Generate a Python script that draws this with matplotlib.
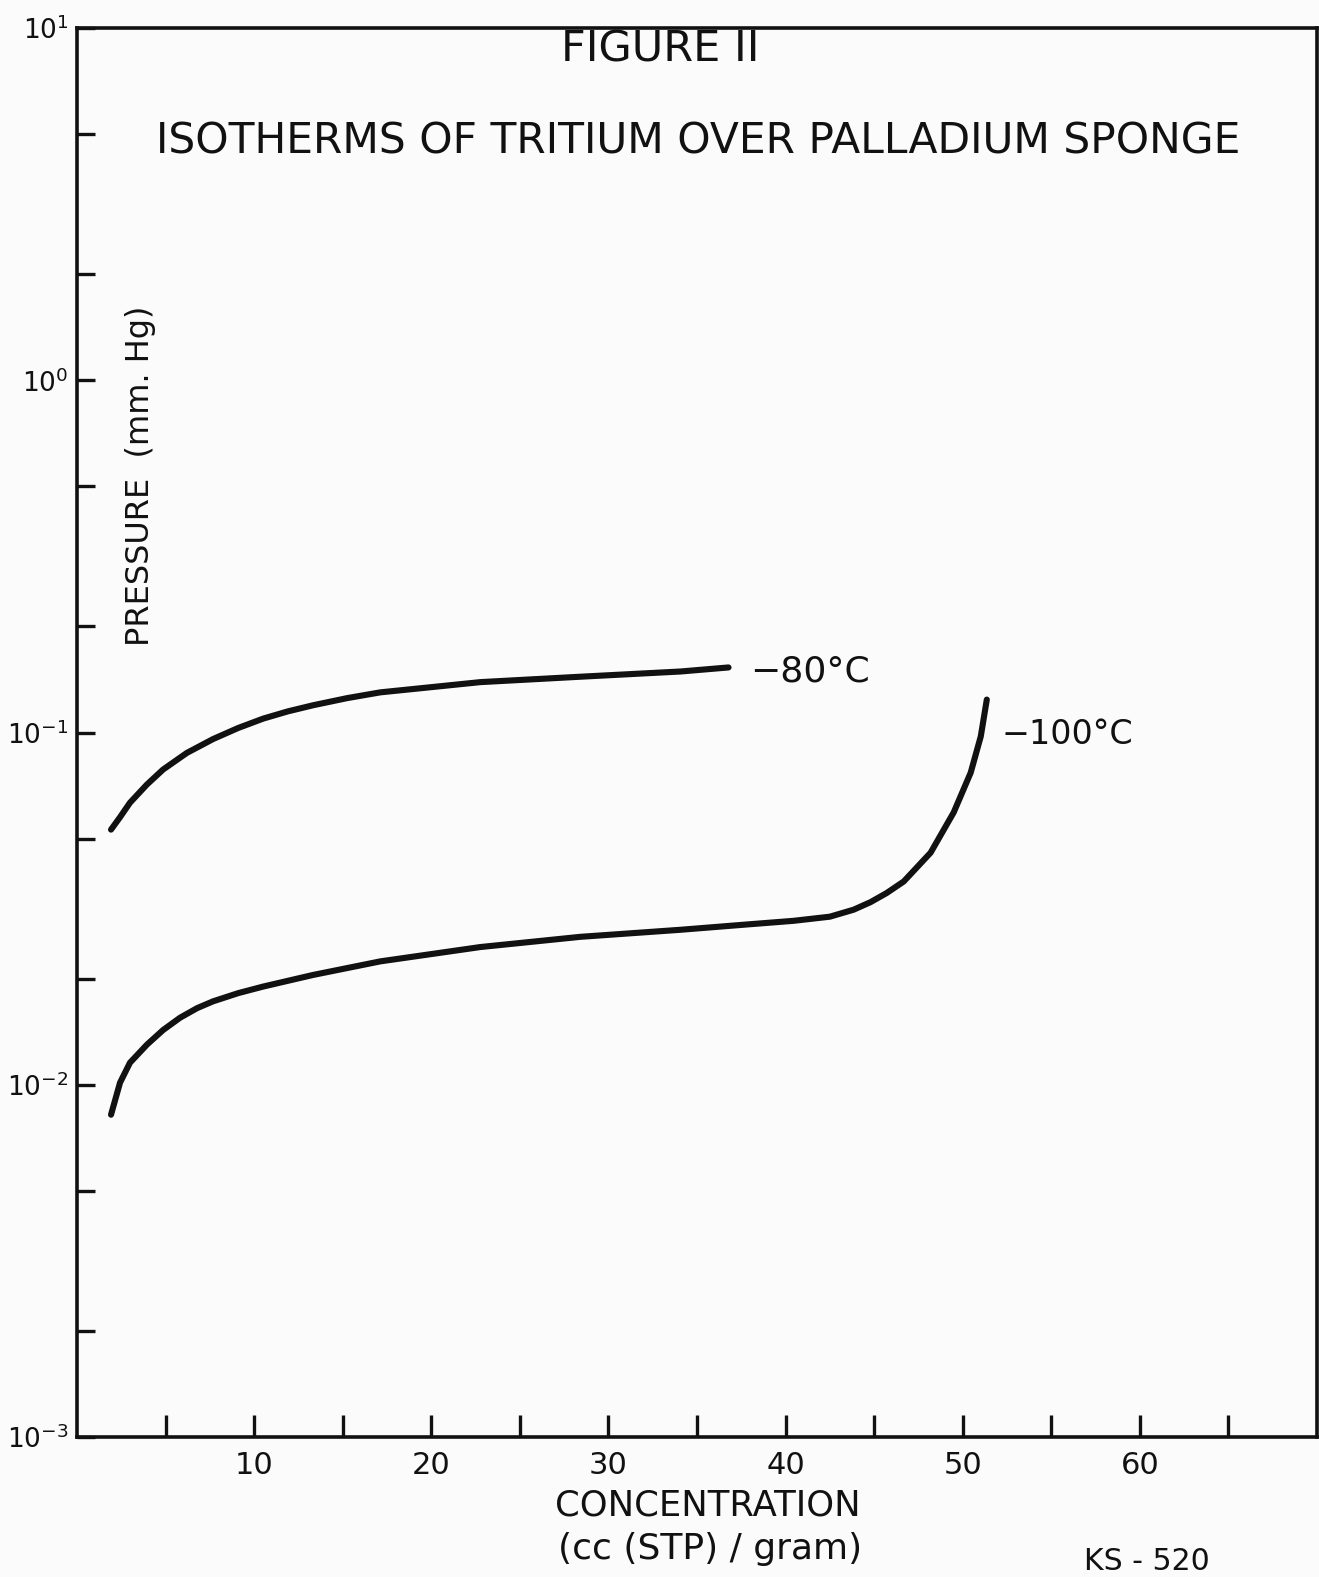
#!/usr/bin/env python3
"""Isotherms of tritium over palladium sponge (Figure 11 re-drawn)."""

import matplotlib
matplotlib.use('Agg')
import matplotlib.pyplot as plt
from matplotlib.ticker import FixedLocator, NullFormatter

###############################################################################
# Data
###############################################################################

# -80 C isotherm: concentration (cc STP / gram) and pressure (mm Hg)
conc_80 = [1.92, 2.43, 2.99, 3.95, 4.86, 6.2, 7.68, 9.1, 10.51, 11.9, 13.33,
           15.25, 17.12, 22.77, 28.42, 34.07, 36.78]
press_80 = [0.0530, 0.0575, 0.0632, 0.0712, 0.0785, 0.0875, 0.0958, 0.1030,
            0.1095, 0.1148, 0.1195, 0.1252, 0.130, 0.139, 0.144, 0.149, 0.153]

# -100 C isotherm
conc_100 = [1.92, 2.43, 2.99, 3.95, 4.86, 5.82, 6.78, 7.68, 9.1, 10.51, 13.33,
            17.12, 22.77, 28.42, 34.07, 37.85, 40.45, 42.5, 43.84, 44.8,
            45.7, 46.67, 48.19, 49.49, 50.45, 51.02, 51.36]
press_100 = [0.00822, 0.01014, 0.01155, 0.0130, 0.0143, 0.0155, 0.0165,
             0.01725, 0.0182, 0.0190, 0.0205, 0.0224, 0.0246, 0.0263,
             0.02754, 0.02852, 0.02920, 0.0300, 0.0314, 0.0330, 0.0350,
             0.03776, 0.04560, 0.0593, 0.0769, 0.0975, 0.124]

x_major = [10, 20, 30, 40, 50, 60]
x_minor = [5, 15, 25, 35, 45, 55, 65]
y_major = [1e-3, 1e-2, 1e-1, 1e0, 1e1]
y_labels = [r'$\mathregular{10^{-3}}$', r'$\mathregular{10^{-2}}$',
            r'$\mathregular{10^{-1}}$', r'$\mathregular{10^{0}}$',
            r'$\mathregular{10^{1}}$']
y_minor = [2e-3, 5e-3, 2e-2, 5e-2, 2e-1, 5e-1, 2e0, 5e0]

###############################################################################

W, H = 1319, 1577
INK = '#111111'

plt.rcParams['font.family'] = ['DejaVu Sans']

fig = plt.figure(figsize=(W / 100, H / 100), dpi=100, facecolor='#fbfbfb')
ax = fig.add_axes([77 / W, 1 - 1437 / H, (1317 - 77) / W, (1437 - 28) / H])
ax.set_facecolor('#fbfbfb')

ax.plot(conc_80, press_80, color=INK, lw=4.4, solid_capstyle='round',
        solid_joinstyle='round')
ax.plot(conc_100, press_100, color=INK, lw=4.4, solid_capstyle='round',
        solid_joinstyle='round')

ax.set_yscale('log')
ax.set_xlim(0, 70)
ax.set_ylim(1e-3, 1e1)

for s in ax.spines.values():
    s.set_linewidth(2.6)
    s.set_color(INK)

ax.xaxis.set_major_locator(FixedLocator(x_major))
ax.xaxis.set_minor_locator(FixedLocator(x_minor))
ax.xaxis.set_minor_formatter(NullFormatter())
ax.set_xticklabels([str(v) for v in x_major])

ax.yaxis.set_major_locator(FixedLocator(y_major))
ax.yaxis.set_minor_locator(FixedLocator(y_minor))
ax.yaxis.set_minor_formatter(NullFormatter())
ax.set_yticklabels(y_labels)

ax.tick_params(axis='x', which='both', direction='in', length=16, width=2.4,
               color=INK, top=False)
ax.tick_params(axis='x', which='major', labelsize=22, pad=10, labelcolor=INK)
ax.tick_params(axis='y', which='both', direction='in', length=13, width=2.4,
               color=INK, right=False)
ax.tick_params(axis='y', which='major', labelsize=19, pad=6, labelcolor=INK)

# titles and labels
fig.text(660 / W, 1 - 50 / H, 'FIGURE II', fontsize=31, ha='center',
         va='center', color=INK)
fig.text(698 / W, 1 - 141 / H, 'ISOTHERMS OF TRITIUM OVER PALLADIUM SPONGE',
         fontsize=30.5, ha='center', va='center', color=INK)
fig.text(141 / W, 1 - 476 / H, 'PRESSURE  (mm. Hg)', fontsize=23,
         rotation=90, ha='center', va='center', color=INK)

fig.text(750 / W, 1 - 672 / H, '\u221280\u00b0C', fontsize=26, ha='left',
         va='center', color=INK)
fig.text(1002 / W, 1 - 735 / H, '\u2212100\u00b0C', fontsize=24, ha='left',
         va='center', color=INK)

fig.text(708 / W, 1 - 1506 / H, 'CONCENTRATION', fontsize=25.5, ha='center',
         va='center', color=INK)
fig.text(710 / W, 1 - 1549 / H, '(cc (STP) / gram)', fontsize=26,
         ha='center', va='center', color=INK)
fig.text(1147 / W, 1 - 1562 / H, 'KS - 520', fontsize=21.5, ha='center',
         va='center', color=INK)

fig.savefig('out.png', dpi=100, facecolor=fig.get_facecolor())
